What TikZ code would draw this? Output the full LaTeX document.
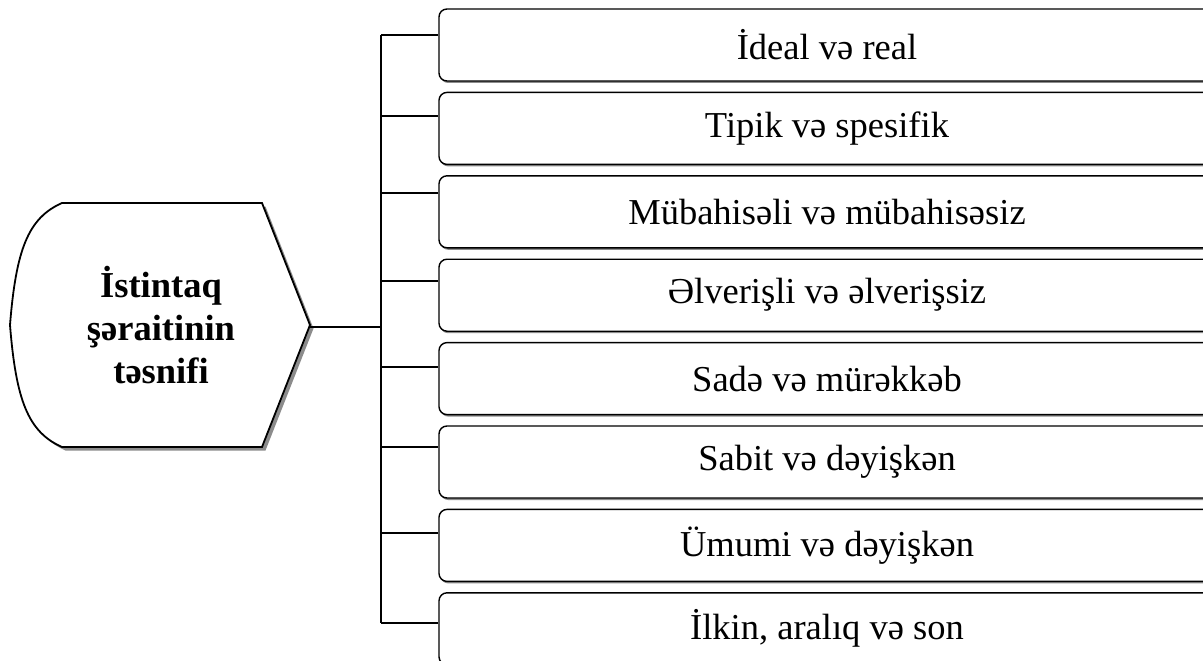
\documentclass[tikz,border=0pt]{standalone}
\usepackage{fontspec}
\setmainfont{Liberation Serif}
\usetikzlibrary{shadows}
\begin{document}
\begin{tikzpicture}[x=1pt,y=-1pt,
  itembox/.style={draw, line width=1.4pt, rounded corners=8pt, minimum width=776pt,
    minimum height=72pt, inner sep=0pt, fill=white,
    font=\fontsize{36.5}{43}\selectfont,
    drop shadow={shadow xshift=1.2pt, shadow yshift=-2pt, fill=black!45, opacity=1}},
  conn/.style={line width=2pt},
  hexline/.style={line width=1.8pt, line join=miter}]
\clip (0,0) rectangle (1203,661);
\fill[white] (0,0) rectangle (1203,661);
% central shape shadow
\begin{scope}[shift={(3.5,3.5)}]
\fill[black!45] (62,203) -- (262,203) -- (310,325) -- (262,447) -- (62,447)
  .. controls (28,432) and (16,400) .. (10,325)
  .. controls (16,250) and (28,218) .. (62,203) -- cycle;
\end{scope}
\draw[hexline, fill=white] (62,203) -- (262,203) -- (310,325) -- (262,447) -- (62,447)
  .. controls (28,432) and (16,400) .. (10,325)
  .. controls (16,250) and (28,218) .. (62,203) -- cycle;
\node[font=\bfseries\fontsize{36.5}{43}\selectfont, align=center, inner sep=0pt] (title) at (161,325)
  {İstintaq\\şəraitinin\\təsnifi};
\coordinate (tip) at (310,326.5);
% boxes
\foreach \i/\cy/\jy/\txt in {
  1/45/35/{İdeal və real},
  2/128.4/116/{Tipik və spesifik},
  3/211.8/193/{Mübahisəli və mübahisəsiz},
  4/295.2/281/{Əlverişli və əlverişsiz},
  5/378.6/367/{Sadə və mürəkkəb},
  6/462/447/{Sabit və dəyişkən},
  7/545.4/533/{Ümumi və dəyişkən},
  8/628.8/623/{İlkin, aralıq və son}} {
  \node[itembox] (b\i) at (827,\cy) {\txt};
  \coordinate (j\i) at (381,\jy);
}
\draw[conn] (j1) -- (j8);
\foreach \i in {1,...,8} {
  \draw[conn] (j\i) -- (b\i.west |- j\i);
}
\draw[conn] (tip) -- (tip -| j1);
\end{tikzpicture}
\end{document}
